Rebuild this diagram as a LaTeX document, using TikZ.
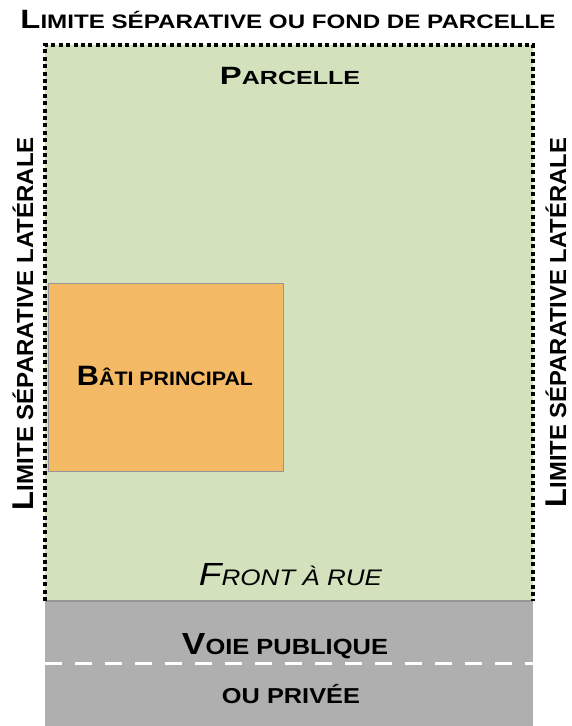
\documentclass[tikz,border=0pt]{standalone}
\usepackage{fontspec}
\setmainfont{Liberation Sans}
\usepackage{graphicx}
\definecolor{parcelgreen}{RGB}{211,226,189}
\definecolor{batiorange}{RGB}{243,185,100}
\definecolor{roadgray}{RGB}{175,175,175}
\definecolor{edgegray}{RGB}{150,150,150}
% small-caps look: first letter large, the rest in smaller capitals
\newcommand\capsline[4]{{\fontsize{#1}{#1}\selectfont #3}{\fontsize{#2}{#2}\selectfont #4}}
% stretch a label to a given width, keeping its height
\newcommand\fitwidth[2]{\resizebox{#1}{\height}{#2}}
\begin{document}
\begin{tikzpicture}[x=1pt,y=-1pt,
  lbl/.style={inner sep=0pt,outer sep=0pt,anchor=base,font=\bfseries},
  boundary/.style={line width=3.4pt,dash pattern=on 4pt off 3.4pt}]
\useasboundingbox (0,0) rectangle (571,726);
% road
\fill[roadgray] (45,601) rectangle (533,726);
\draw[white,line width=3pt,dash pattern=on 17pt off 13pt] (45,663) -- (533,663);
% plot
\fill[parcelgreen] (45,45) rectangle (533,601);
\draw[edgegray,line width=1.5pt] (45,601) -- (533,601);
\draw[boundary] (45,601) -- (45,45) -- (533,45) -- (533,601);
% main building
\node[draw=edgegray,line width=0.8pt,fill=batiorange,minimum width=235pt,minimum height=188pt,inner sep=0pt,anchor=north west] (bati) at (48,283) {};
% labels
\node[lbl] (titre) at (288,28) {\fitwidth{535pt}{\capsline{26.5}{19.5}{L}{IMITE SÉPARATIVE OU FOND DE PARCELLE}}};
\node[lbl] (parcelle) at (290,84) {\fitwidth{140pt}{\capsline{25}{19}{P}{ARCELLE}}};
\node[lbl] (batitxt) at (165,385) {\fitwidth{176pt}{\capsline{28}{19.5}{B}{ÂTI PRINCIPAL}}};
\node[lbl,font=\itshape] (front) at (290.5,585) {\fitwidth{183pt}{\capsline{32}{22.5}{F}{RONT À RUE}}};
\node[lbl] (voie) at (285,654) {\fitwidth{206pt}{\capsline{30.5}{22}{V}{OIE PUBLIQUE}}};
\node[lbl] (prive) at (291,703) {\fitwidth{138pt}{\capsline{21.6}{21.6}{}{OU PRIVÉE}}};
\node[lbl,rotate=90] (gauche) at (33,323.5) {\fitwidth{373pt}{\capsline{30}{23.2}{L}{IMITE SÉPARATIVE LATÉRALE}}};
\node[lbl,rotate=90] (droite) at (566,322.5) {\fitwidth{369pt}{\capsline{30}{23.2}{L}{IMITE SÉPARATIVE LATÉRALE}}};
\end{tikzpicture}
\end{document}
